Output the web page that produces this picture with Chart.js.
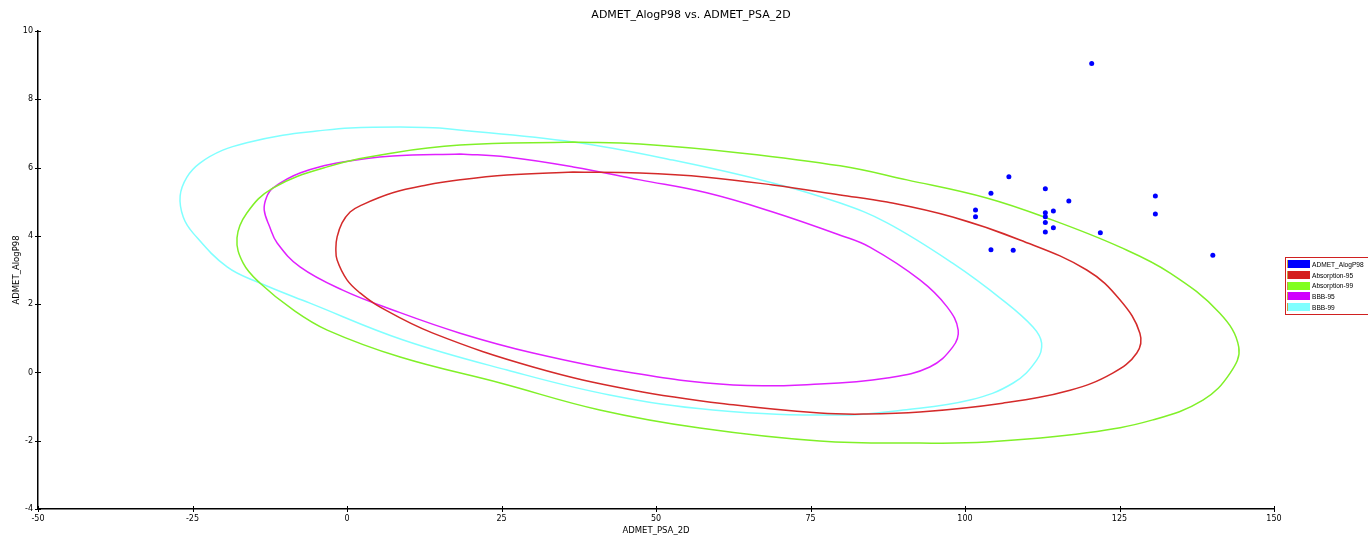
<!DOCTYPE html>
<html>
<head>
<meta charset="utf-8">
<script src="https://cdn.jsdelivr.net/npm/chart.js@4.4.0/dist/chart.umd.min.js"></script>
<style>
  html, body { margin: 0; padding: 0; background: #fff; overflow: hidden; }
  #wrap { position: relative; width: 1368px; height: 536px; }
  #title {
    position: absolute; left: 0; top: 8px; width: 1382px; text-align: center;
    font: 11px "DejaVu Sans", sans-serif; color: #000;
  }
  #legend {
    position: absolute; left: 1285px; top: 257px; width: 125px; height: 58px;
    border: 1px solid #d02020; box-sizing: border-box; padding: 1px 0 0 1px;
    font: 6.6px "Liberation Sans", Arial, sans-serif; color: #000;
  }
  #legend .row { display: flex; align-items: center; height: 10.7px; }
  #legend .sw { width: 22px; height: 8px; margin-right: 2px; border-left: 1px solid #c8a040; }
</style>
</head>
<body>
<div id="wrap">
  <canvas id="chart"></canvas>
  <div id="title">ADMET_AlogP98 vs. ADMET_PSA_2D</div>
  <div id="legend"></div>
</div>
<script>
// Points ADMET_AlogP98 vs ADMET_PSA_2D
const psaValues = [120.5, 107.1, 113.0, 104.2, 116.8, 130.8, 101.7, 101.7, 113.0, 114.3, 113.0, 130.8, 113.0, 114.3, 113.0, 121.9, 104.2, 107.8, 140.1];
const alogpValues = [9.05, 5.73, 5.38, 5.25, 5.02, 5.17, 4.76, 4.56, 4.68, 4.73, 4.56, 4.64, 4.39, 4.24, 4.11, 4.09, 3.59, 3.58, 3.43];

// Ellipses (boucles fermées)
const abs95X = [36.6, 47.4, 58.2, 68.9, 79.8, 87.4, 98.0, 108.9, 119.7, 125.1, 128.3, 127.8, 123.9, 117.0, 106.1, 92.7, 83.5, 76.5, 62.5, 46.3, 30.1, 13.9, 5.3, 2.1, 0.0, -1.6, -1.8, -1.6, -0.8, 0.5, 2.1, 7.4, 12.9, 18.3, 25.9, 36.6];
const abs95Y = [5.87, 5.84, 5.72, 5.49, 5.20, 4.99, 4.55, 3.88, 3.00, 2.12, 1.15, 0.57, -0.02, -0.52, -0.90, -1.16, -1.22, -1.19, -0.95, -0.52, 0.16, 1.15, 1.92, 2.33, 2.71, 3.29, 3.64, 3.97, 4.38, 4.70, 4.88, 5.26, 5.49, 5.64, 5.78, 5.87];

const abs99X = [36.6, 47.4, 63.6, 79.8, 90.6, 103.5, 114.2, 125.1, 133.2, 141.2, 144.3, 142.9, 138.5, 130.4, 119.7, 103.5, 92.7, 76.5, 57.1, 40.9, 24.8, 8.6, -3.2, -8.7, -14.1, -16.8, -17.8, -16.2, -12.0, -3.2, 7.4, 18.3, 36.6];
const abs99Y = [6.75, 6.69, 6.43, 6.05, 5.64, 5.11, 4.46, 3.67, 2.91, 1.74, 0.74, -0.02, -0.81, -1.39, -1.77, -2.04, -2.07, -2.01, -1.63, -1.10, -0.31, 0.45, 1.24, 1.83, 2.62, 3.20, 3.94, 4.67, 5.40, 6.02, 6.43, 6.66, 6.75];

const bbb95X = [18.3, 25.9, 36.6, 47.4, 58.2, 68.9, 79.8, 84.6, 92.7, 97.1, 98.9, 98.0, 94.3, 87.4, 76.5, 62.5, 46.3, 30.1, 18.3, 7.4, -0.7, -7.6, -11.3, -12.5, -13.4, -13.0, -12.0, -7.6, -0.7, 7.4, 18.3];
const bbb95Y = [6.40, 6.31, 6.02, 5.64, 5.26, 4.70, 4.02, 3.67, 2.71, 1.92, 1.24, 0.74, 0.16, -0.16, -0.34, -0.37, -0.02, 0.57, 1.15, 1.83, 2.41, 3.09, 3.79, 4.26, 4.76, 5.14, 5.40, 5.84, 6.16, 6.34, 6.40];

const bbb99X = [15.0, 36.6, 52.7, 68.9, 79.8, 87.4, 98.0, 106.1, 111.0, 112.4, 111.6, 107.8, 100.8, 90.0, 79.8, 59.2, 42.5, 25.9, 9.1, -6.0, -14.1, -19.4, -24.9, -26.5, -27.0, -25.9, -23.8, -20.1, -15.7, -10.4, -4.9, 0.5, 8.6, 15.0];
const bbb99Y = [7.16, 6.75, 6.22, 5.55, 4.96, 4.38, 3.20, 2.12, 1.33, 0.86, 0.36, -0.31, -0.81, -1.10, -1.25, -1.10, -0.66, 0.07, 0.95, 2.03, 2.62, 3.09, 4.08, 4.55, 5.17, 5.72, 6.13, 6.51, 6.75, 6.95, 7.07, 7.16, 7.19, 7.16];

const xTicks = [-50, -25, 0, 25, 50, 75, 100, 125, 150];
const yTicks = [-4, -2, 0, 2, 4, 6, 8, 10];

const pairs = (xs, ys) => xs.map((x, i) => ({ x, y: ys[i] }));

function ring(label, xs, ys, color, swatch) {
  return {
    label, data: pairs(xs, ys), showLine: true, tension: 0.4,
    borderColor: color, borderWidth: 1.5, pointRadius: 0, fill: false,
    swatch
  };
}

const datasets = [
  { label: "ADMET_AlogP98", data: pairs(psaValues, alogpValues), backgroundColor: "#0000ff",
    borderWidth: 0, pointRadius: 2.5, showLine: false, swatch: "#0000ff" },
  ring("Absorption-95", abs95X, abs95Y, "#d42a2a", "#d42020"),
  ring("Absorption-99", abs99X, abs99Y, "#80f028", "#80ff20"),
  ring("BBB-95", bbb95X, bbb95Y, "#e020ff", "#d000ff"),
  ring("BBB-99", bbb99X, bbb99Y, "#80ffff", "#80ffff")
];

// petites graduations qui croisent les axes
const crossTicks = {
  id: "crossTicks",
  afterDatasetsDraw(chart) {
    const { ctx, chartArea: a, scales: { x, y } } = chart;
    ctx.save();
    ctx.strokeStyle = "#000";
    ctx.lineWidth = 1;
    ctx.beginPath();
    x.ticks.forEach((t, i) => {
      const px = Math.round(x.getPixelForTick(i)) + 0.5;
      ctx.moveTo(px, a.bottom - 3); ctx.lineTo(px, a.bottom + 3);
    });
    y.ticks.forEach((t, i) => {
      const py = Math.round(y.getPixelForTick(i)) + 0.5;
      ctx.moveTo(a.left - 3, py); ctx.lineTo(a.left + 3, py);
    });
    ctx.stroke();
    ctx.restore();
  }
};

const tickFont = { family: "DejaVu Sans", size: 8 };

new Chart(document.getElementById("chart"), {
  type: "scatter",
  data: { datasets },
  plugins: [crossTicks],
  options: {
    responsive: true,
    maintainAspectRatio: false,
    animation: false,
    layout: { padding: { left: 0, right: 94, top: 31, bottom: 0 } },
    plugins: {
      legend: { display: false },
      tooltip: { enabled: false },
      title: { display: false }
    },
    scales: {
      x: {
        type: "linear", min: xTicks[0], max: xTicks[xTicks.length - 1],
        afterBuildTicks: s => { s.ticks = xTicks.map(v => ({ value: v })); },
        afterFit: s => { s.height = 27; },
        grid: { display: true, drawOnChartArea: false, drawTicks: false },
        border: { color: "#000", width: 1.5 },
        ticks: { color: "#000", font: tickFont, padding: 5, maxRotation: 0, autoSkip: false },
        title: { display: true, text: "ADMET_PSA_2D", color: "#000",
          font: { family: "DejaVu Sans", size: 8.5 }, padding: { top: 0, bottom: 0 } }
      },
      y: {
        type: "linear", min: yTicks[0], max: yTicks[yTicks.length - 1],
        afterBuildTicks: s => { s.ticks = yTicks.map(v => ({ value: v })); },
        afterFit: s => { s.width = 38; },
        grid: { display: true, drawOnChartArea: false, drawTicks: false },
        border: { color: "#000", width: 1.5 },
        ticks: { color: "#000", font: tickFont, padding: 5, autoSkip: false },
        title: { display: true, text: "ADMET_AlogP98", color: "#000",
          font: { family: "DejaVu Sans", size: 8.5 }, padding: { top: 12, bottom: 0 } }
      }
    }
  }
});

// Légende maison (boîte rouge à droite)
const legend = document.getElementById("legend");
datasets.forEach(d => {
  const row = document.createElement("div");
  row.className = "row";
  row.innerHTML = `<span class="sw" style="background:${d.swatch}"></span><span>${d.label}</span>`;
  legend.appendChild(row);
});
</script>
</body>
</html>
